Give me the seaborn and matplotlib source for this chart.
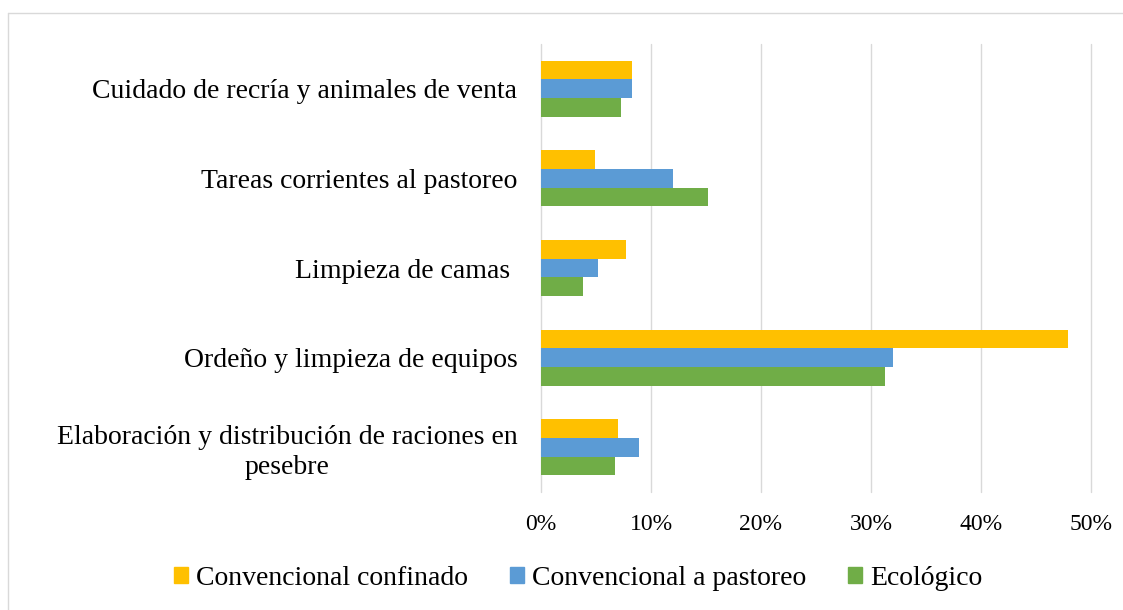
import matplotlib
matplotlib.use("Agg")
import matplotlib.pyplot as plt
import pandas as pd
import seaborn as sns
from matplotlib.lines import Line2D
from matplotlib.ticker import PercentFormatter

categorias = [
    "Cuidado de recría y animales de venta",
    "Tareas corrientes al pastoreo",
    "Limpieza de camas ",
    "Ordeño y limpieza de equipos",
    "Elaboración y distribución de raciones en\npesebre",
]
series = ["Convencional confinado", "Convencional a pastoreo", "Ecológico"]
confinado = [8.3, 4.9, 7.7, 47.9, 7.0]
pastoreo = [8.3, 12.0, 5.2, 32.0, 8.9]
ecologico = [7.3, 15.2, 3.8, 31.3, 6.7]
colores = ["#FFC000", "#5B9BD5", "#70AD47"]

df = pd.DataFrame({
    "Tarea": categorias * 3,
    "Sistema": [s for s in series for _ in categorias],
    "Porcentaje": confinado + pastoreo + ecologico,
})

sns.set_style("white")
plt.rcParams["font.family"] = ["Liberation Serif", "DejaVu Serif"]
plt.rcParams["text.color"] = "black"
plt.rcParams["xtick.color"] = "black"
plt.rcParams["ytick.color"] = "black"

fig = plt.figure(figsize=(11.23, 6.10), dpi=100)
ax = fig.add_axes([541 / 1123, 1 - 492 / 610, 550 / 1123, 448 / 610])

sns.barplot(
    data=df, y="Tarea", x="Porcentaje", hue="Sistema",
    order=categorias, hue_order=series, palette=colores, saturation=1,
    orient="h", width=0.625, linewidth=0, ax=ax,
)

ax.set_xlim(0, 50)
ax.set_xticks([0, 10, 20, 30, 40, 50])
ax.xaxis.set_major_formatter(PercentFormatter(decimals=0))
ax.grid(axis="x", color="#d9d9d9", linewidth=1)
ax.grid(axis="y", visible=False)
for gl in ax.get_xgridlines():
    gl.set_clip_on(False)
ax.set_axisbelow(True)
for s in ax.spines.values():
    s.set_visible(False)
ax.set_xlabel("")
ax.set_ylabel("")
ax.tick_params(axis="y", length=0, pad=17, labelsize=20, labelcolor="black")
ax.tick_params(axis="x", length=0, pad=16, labelsize=17, labelcolor="black")
ax.set_yticks(range(len(categorias)))
ax.set_yticklabels(categorias, multialignment="center", linespacing=1.25)

ax.legend_.remove()
handles = [plt.Rectangle((0, 0), 1, 1, color=c) for c in colores]
fig.legend(
    handles, series, loc="center", bbox_to_anchor=(0.515, 0.052), ncol=3,
    frameon=False, fontsize=20, handlelength=0.5, handleheight=0.5,
    handletextpad=0.3, columnspacing=1.5,
)

# borde exterior del gráfico
fig.add_artist(Line2D([8 / 1123, 1], [1 - 13 / 610, 1 - 13 / 610], color="#d9d9d9", lw=1))
fig.add_artist(Line2D([8 / 1123, 8 / 1123], [0, 1 - 13 / 610], color="#d9d9d9", lw=1))

fig.savefig("out.png", dpi=100)
